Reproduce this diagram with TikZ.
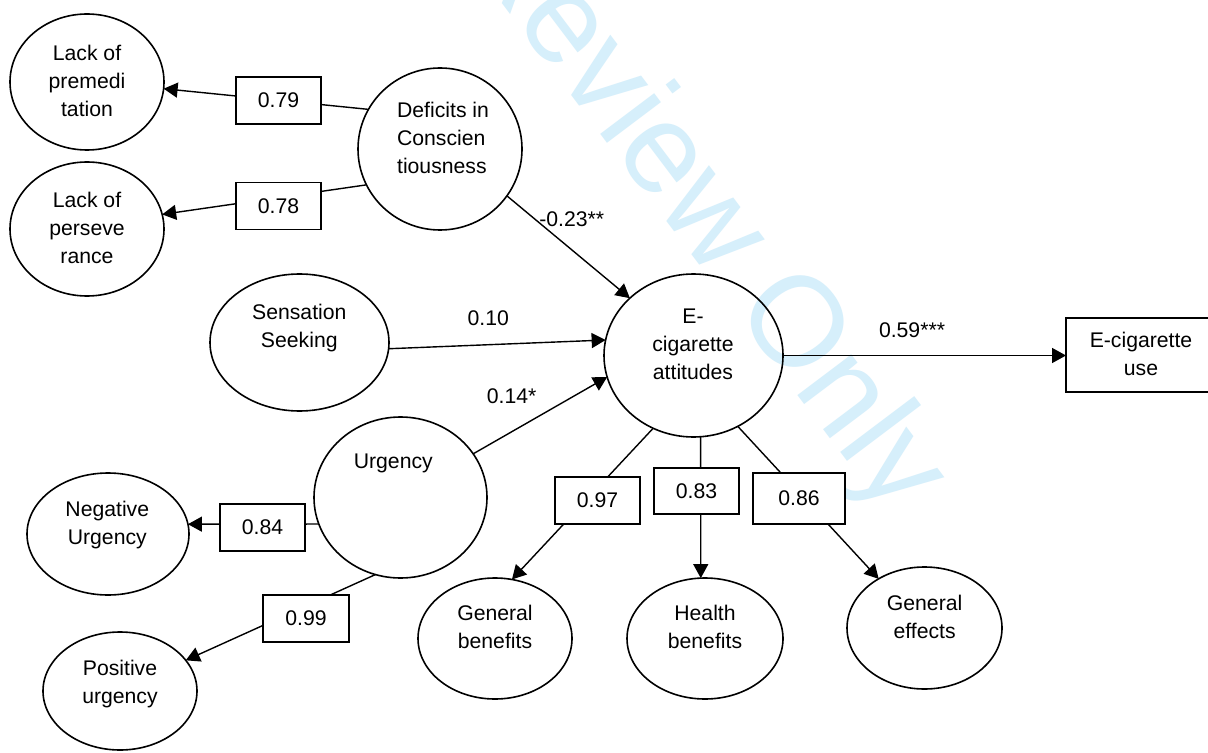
\documentclass[tikz,border=0pt]{standalone}
\usepackage{fontspec}
\setmainfont{Liberation Sans}
\usetikzlibrary{arrows.meta,shapes.geometric}
\definecolor{wmblue}{RGB}{214,239,251}
\begin{document}
\begin{tikzpicture}[x=0.5pt,y=-0.5pt,
  font=\fontsize{10.6}{14}\selectfont,
  ell/.style={ellipse, draw, line width=0.8pt, inner sep=0pt, outer sep=0pt},
  pbox/.style={rectangle, draw, line width=0.8pt, fill=white, inner sep=0pt, outer sep=0pt, minimum width=42.5pt, minimum height=23.5pt},
  txt/.style={align=center, inner sep=0pt, execute at begin node=\strut, execute at end node=\strut},
  lab/.style={inner sep=0pt, anchor=base},
  arr/.style={line width=0.7pt, -{Triangle[length=7pt,width=7.5pt]}},
  wmk/.style={text=wmblue, inner sep=0pt, anchor=base east, rotate=-53, font=\fontsize{64}{64}\selectfont}
]
\useasboundingbox (0,0) rectangle (1208,753);
\fill[white] (0,0) rectangle (1208,753);
\clip (0,0) rectangle (1208,753);

% watermark
\node[wmk] (wm) at (891,519.5) {For Peer Review Only};

% ellipses
\node[ell, minimum width=77pt, minimum height=68pt] (lp) at (87,82) {};
\node[ell, minimum width=77pt, minimum height=67pt] (lv) at (87,229) {};
\node[ell, minimum width=82pt, minimum height=81pt] (def) at (440,149) {};
\node[ell, minimum width=89.5pt, minimum height=68.5pt] (sen) at (299.5,342.5) {};
\node[ell, minimum width=86.5pt, minimum height=80.5pt] (urg) at (400.5,497.5) {};
\node[ell, minimum width=81pt, minimum height=61pt] (neg) at (108,534) {};
\node[ell, minimum width=77pt, minimum height=59pt] (pos) at (120,691) {};
\node[ell, minimum width=89.5pt, minimum height=81.5pt] (eca) at (693.5,355.5) {};
\node[ell, minimum width=77pt, minimum height=60.5pt] (gb) at (495,638.5) {};
\node[ell, minimum width=78pt, minimum height=60.5pt] (hb) at (705,638.5) {};
\node[ell, minimum width=77.5pt, minimum height=61pt] (ge) at (924.5,628) {};
\node[pbox, minimum width=75pt, minimum height=36.7pt] (use) at (1141,355) {};

% texts
\node[txt] (lp-t) at (87,85.2) {Lack of\\premedi\\tation};
\node[txt] (lv-t) at (87,232.2) {Lack of\\perseve\\rance};
\node[txt, align=left, anchor=west] (def-t) at (396.7,141.9) {Deficits in\\Conscien\\tiousness};
\node[txt] (sen-t) at (299.3,330.4) {Sensation\\Seeking};
\node[txt] (urg-t) at (393.3,462.7) {Urgency};
\node[txt] (neg-t) at (107.3,526.9) {Negative\\Urgency};
\node[txt] (pos-t) at (120,686.5) {Positive\\urgency};
\node[txt] (eca-t) at (693,348.2) {E-\\cigarette\\attitudes};
\node[txt] (gb-t) at (495,631) {General\\benefits};
\node[txt] (hb-t) at (705,631) {Health\\benefits};
\node[txt] (ge-t) at (924.6,620.8) {General\\effects};
\node[txt] (use-t) at (1141,357.7) {E-cigarette\\use};

% connectors
\draw[arr] (def.151) -- (lp.-5);
\draw[arr] (def.206) -- (lv.11);
\draw[arr] (def.-35) -- (eca.138);
\draw[arr] (sen.-4) -- (eca.170);
\draw[arr] (urg.31) -- (eca.194);
\draw[arr] (eca.east) -- (eca.east -| use.west);
\draw[arr] (urg.198) -- (neg.7);
\draw[arr] (urg.252) -- (pos.25);
\draw[arr] (eca.241.5) -- (gb.74);
\draw[arr] (eca.-85.4) -- (hb.94.7);
\draw[arr] (eca.-58.5) -- (ge.133);

% loading boxes
\node[pbox] (b79) at (278.5,100.5) {0.79};
\node[pbox] (b78) at (278.5,206) {0.78};
\node[pbox] (b84) at (262.5,527.5) {0.84};
\node[pbox, minimum width=43pt] (b99) at (306,618.5) {0.99};
\node[pbox] (b97) at (597.5,500.5) {0.97};
\node[pbox, minimum height=23pt] (b83) at (696.5,491) {0.83};
\node[pbox, minimum width=46pt, minimum height=25.5pt] (b86) at (799,498.5) {0.86\hspace{6pt}};

% path labels
\node[lab] (l23) at (571.7,226.7) {-0.23**};
\node[lab] (l10) at (488.3,325) {0.10};
\node[lab] (l14) at (511.7,403.3) {0.14*};
\node[lab] (l59) at (912,337.3) {0.59***};
\end{tikzpicture}
\end{document}
